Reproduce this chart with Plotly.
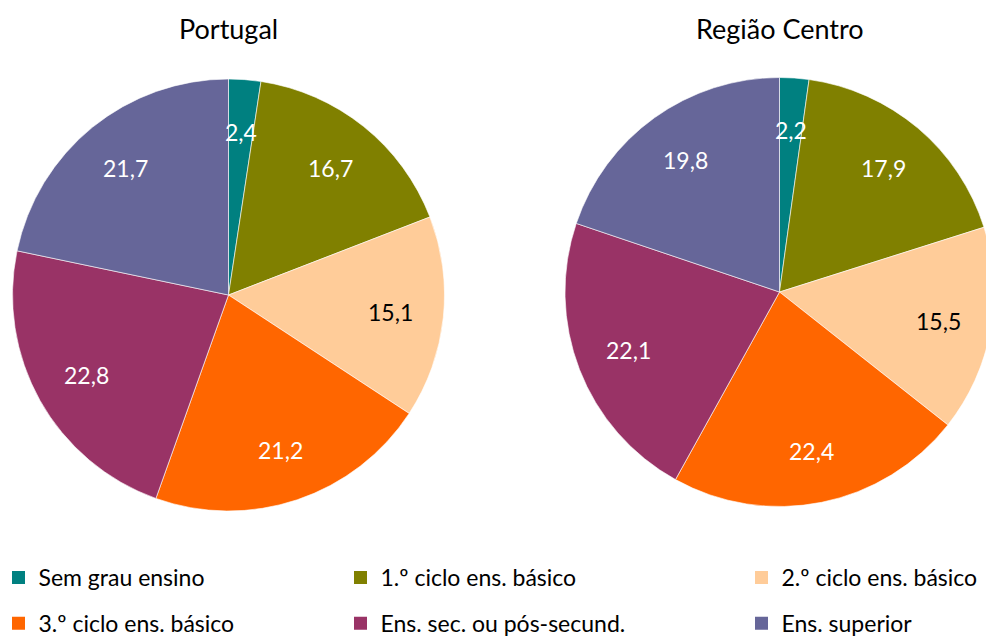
import plotly.graph_objects as go
import numpy as np

categories = ['Sem grau ensino', '1.º ciclo ens. básico', '2.º ciclo ens. básico',
              '3.º ciclo ens. básico', 'Ens. sec. ou pós-secund.', 'Ens. superior']
portugal = [2.4, 16.7, 15.1, 21.2, 22.8, 21.7]
centro = [2.2, 17.9, 15.5, 22.4, 22.1, 19.8]
titles = ['Portugal', 'Região Centro']

colors = ['#008080', '#808000', '#FFCC99', '#FF6600', '#993366', '#666699']
text_colors = ['white', 'white', 'black', 'white', 'white', 'white']

# the page body has an 8px margin, so the figure is drawn 8px in from the corner
OFF = 8
W, H = 994 - OFF, 639 - OFF
FONT = 'Lato'

# pie boxes in window pixels: (left, right, top, bottom)
boxes = [(12, 445, 79, 511), (565, 994, 77, 507)]


def px(x, y):
    return (x - OFF) / W, 1 - (y - OFF) / H


fig = go.Figure()
annotations = []

for vals, title, (x0, x1, y0, y1) in zip([portugal, centro], titles, boxes):
    dx0, dy0 = px(x0, y1)
    dx1, dy1 = px(x1, y0)
    fig.add_trace(go.Pie(
        values=vals,
        labels=categories,
        sort=False,
        direction='clockwise',
        rotation=0,
        textinfo='none',
        showlegend=False,
        marker=dict(colors=colors, line=dict(color='white', width=0.6)),
        domain=dict(x=[dx0, dx1], y=[dy0, dy1]),
        hovertemplate='%{label}: %{value}<extra>' + title + '</extra>'
    ))

    # data labels along the middle angle of each slice
    cx, cy = (x0 + x1) / 2, (y0 + y1) / 2
    r = min(x1 - x0, y1 - y0) / 2
    v = np.array(vals)
    mids = (np.cumsum(v) - v / 2) / v.sum() * 2 * np.pi
    for val, a, tc in zip(vals, mids, text_colors):
        lx, ly = px(cx + 0.755 * r * np.sin(a), cy - 0.755 * r * np.cos(a))
        annotations.append(dict(
            text=f'{val:.1f}'.replace('.', ','),
            x=lx, y=ly, xref='paper', yref='paper',
            xanchor='center', yanchor='middle',
            showarrow=False, font=dict(family=FONT, size=23, color=tc)
        ))

    tx, ty = px(cx, 29)
    annotations.append(dict(
        text=title, x=tx, y=ty, xref='paper', yref='paper',
        showarrow=False, xanchor='center', yanchor='middle',
        font=dict(family=FONT, size=27, color='black')
    ))

# legend: three columns, two rows
legend_names = ['legend', 'legend2', 'legend3']
for i, (cat, col) in enumerate(zip(categories, colors)):
    fig.add_trace(go.Scatter(
        x=[None], y=[None], mode='markers', name=cat,
        marker=dict(symbol='square', size=13, color=col),
        legend=legend_names[i % 3], legendgroup=cat,
        hoverinfo='skip'
    ))

leg_common = dict(
    y=px(0, 556)[1], xanchor='left', yanchor='top',
    font=dict(family=FONT, size=23, color='black'),
    bgcolor='rgba(0,0,0,0)', tracegroupgap=13, borderwidth=0,
    traceorder='grouped'
)

fig.update_layout(
    width=W, height=H,
    margin=dict(l=0, r=0, t=0, b=0, autoexpand=False),
    paper_bgcolor='white',
    plot_bgcolor='white',
    font=dict(family=FONT),
    xaxis=dict(visible=False),
    yaxis=dict(visible=False),
    annotations=annotations,
    legend=dict(x=px(-1.5, 0)[0], **leg_common),
    legend2=dict(x=px(340.5, 0)[0], **leg_common),
    legend3=dict(x=px(741.5, 0)[0], **leg_common),
)

fig.write_html('out.html')
